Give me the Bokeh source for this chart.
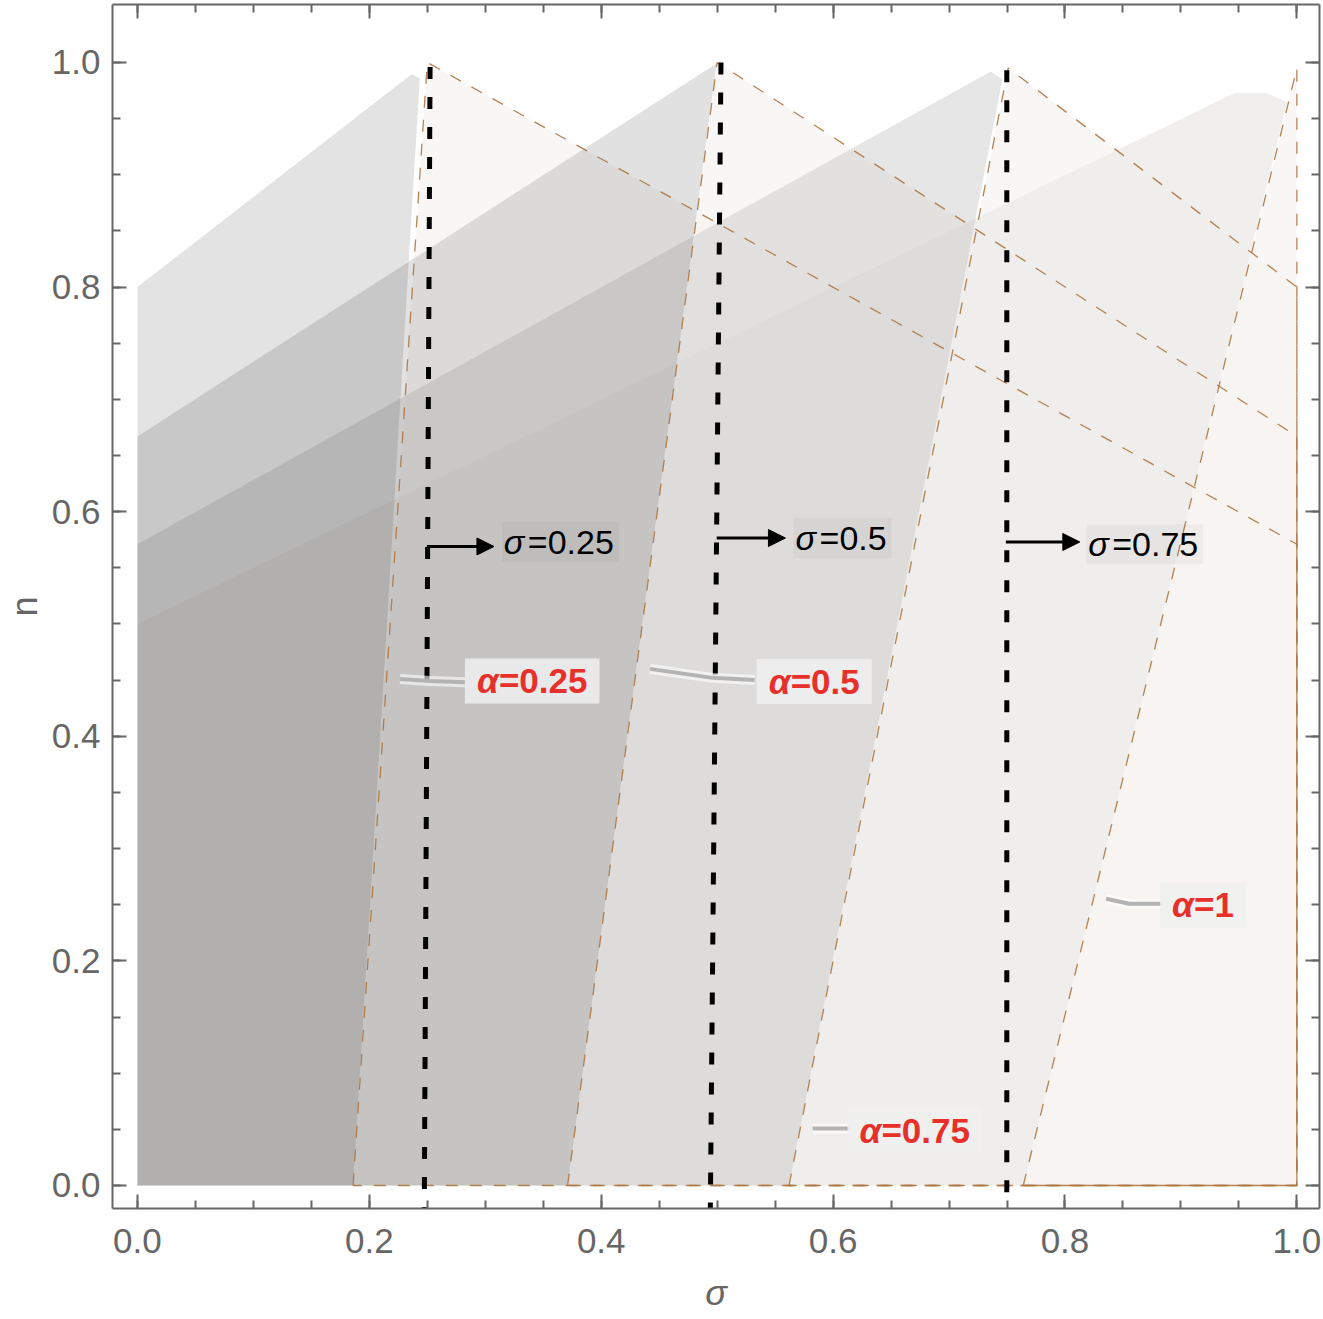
from bokeh.plotting import figure
from bokeh.models import (Range1d, LinearAxis, FixedTicker, Label, Arrow, NormalHead,
                          PrintfTickFormatter, CustomLabelingPolicy)
from bokeh.embed import file_html
from bokeh.resources import INLINE

# --- data (sigma on x, n on y) ---
alphas = [0.25, 0.5, 0.75, 1.0]

# dashed boundary of each alpha: slant line from (slant_bot, 0) up to the top point
slant_bot = [0.186, 0.371, 0.562, 0.764]
slant_top_x = [0.250, 0.500, 0.751, 1.000]
slant_top_y = [1.000, 1.000, 0.995, 0.995]
# descending dashed line ends on sigma = 1 at this n
desc_end_y = [0.571, 0.667, 0.800, 0.995]

# gray region of each alpha: starts on sigma = 0 at rise_start, corner points near the top
rise_start = [0.800, 0.667, 0.571, 0.500]
peak_x = [[0.2435, 0.2365], [0.4995], [0.746, 0.736], [0.9917, 0.973, 0.947]]
peak_y = [[0.986, 0.9895], [0.999], [0.985, 0.992], [0.965, 0.973, 0.973]]

# vertical dotted lines sigma = 0.25, 0.5, 0.75
dot_top_x = [0.2524, 0.5033, 0.7498]
dot_top_y = [0.996, 1.000, 0.993]
dot_bot_x = [0.2474, 0.4941, 0.7498]
dot_bot_y = [-0.021, -0.021, -0.021]

# arrows and sigma labels
arrow_x0 = [0.2497, 0.4996, 0.7490]
arrow_x1 = [0.3075, 0.5589, 0.8128]
arrow_y = [0.569, 0.5765, 0.573]
sig_lab_x = [0.316, 0.5676, 0.820]
sig_lab_y = [0.573, 0.5765, 0.571]
sig_lab_text = ["=0.25", "=0.5", "=0.75"]

# alpha labels with their leader lines
a_lab_x = [0.2928, 0.5444, 0.6227, 0.8923]
a_lab_y = [0.4493, 0.4487, 0.0494, 0.250]
a_lab_text = ["=0.25", "=0.5", "=0.75", "=1"]
lead_x = [[0.2265, 0.2524, 0.2825], [0.4419, 0.4961, 0.5323], [0.5823, 0.6141], [0.8355, 0.8553, 0.8837]]
lead_y = [[0.451, 0.4493, 0.448], [0.460, 0.452, 0.450], [0.0507, 0.0507], [0.2553, 0.2509, 0.2509]]

major_ticks = [0.0, 0.2, 0.4, 0.6, 0.8, 1.0]
minor_ticks = [i * 0.05 for i in range(21)]

FONT = "Liberation Sans"
GREY = "#666666"
RED = "#e8302b"
BROWN = "#ad7540"

# polygons built from the values above
right_xs = [[b, tx, 1.0, 1.0] for b, tx in zip(slant_bot, slant_top_x)]
right_ys = [[0.0, ty, de, 0.0] for ty, de in zip(slant_top_y, desc_end_y)]
left_xs = [[0.0, b] + px + [0.0] for b, px in zip(slant_bot, peak_x)]
left_ys = [[0.0, 0.0] + py + [rs] for py, rs in zip(peak_y, rise_start)]

p = figure(width=1323, height=1319, output_backend="svg", toolbar_location=None,
           x_range=Range1d(-0.0215, 1.0195), y_range=Range1d(-0.0205, 1.0516),
           min_border_left=112, min_border_right=0, min_border_top=0, min_border_bottom=111)
p.outline_line_color = None
p.grid.visible = False
p.background_fill_color = "white"

# light (right) regions underneath
p.patches(right_xs, right_ys, fill_color="#f6f3f1", fill_alpha=0.7, line_color=None)

# gray (left) regions, alpha = 1 at the bottom of the stack
left_fill = ["#16161a", "#57575a", "#c7c6c7", "#eeedeb"]
left_alpha = [0.12, 0.18, 0.44, 0.88]
for i in reversed(range(len(alphas))):
    p.patch(left_xs[i], left_ys[i], fill_color=left_fill[i], fill_alpha=left_alpha[i], line_color=None)

# dashed boundaries
p.patches(right_xs, right_ys, fill_color=None, line_color=BROWN, line_width=1.3,
          line_dash="12 12", line_alpha=0.9)

# dotted sigma lines
p.segment(dot_top_x, dot_top_y, dot_bot_x, dot_bot_y, line_color="black", line_width=5, line_dash="12 18")

for x0, x1, y in zip(arrow_x0, arrow_x1, arrow_y):
    p.add_layout(Arrow(end=NormalHead(size=17, fill_color="black", line_color="black"),
                       x_start=x0, y_start=y, x_end=x1, y_end=y, line_width=3, line_color="black"))

for x, y, t in zip(sig_lab_x, sig_lab_y, sig_lab_text):
    p.add_layout(Label(x=x, y=y, text=t, x_offset=-2, text_font=FONT, text_font_size="34px",
                       text_color="black", text_baseline="middle", text_align="left",
                       background_fill_color="black", background_fill_alpha=0.035,
                       padding=(26, 5, 1, 1)))
    p.add_layout(Label(x=x, y=y, text="σ", text_font=FONT, text_font_size="34px",
                       text_font_style="italic", text_color="black",
                       text_baseline="middle", text_align="left"))

# leader lines of alpha labels
p.multi_line(lead_x, lead_y, line_color="white", line_width=10, line_alpha=0.6)
p.multi_line(lead_x, lead_y, line_color="#b3b3b3", line_width=4)

for x, y, t in zip(a_lab_x, a_lab_y, a_lab_text):
    p.add_layout(Label(x=x, y=y, text=t, x_offset=-12, text_font=FONT, text_font_size="35px",
                       text_font_style="bold", text_color=RED,
                       text_baseline="middle", text_align="left",
                       background_fill_color="#f0f0f0", background_fill_alpha=0.85,
                       padding=(34, 12, 3, 3)))
    p.add_layout(Label(x=x, y=y, text="α", text_font=FONT, text_font_size="35px",
                       text_font_style="bold italic", text_color=RED,
                       text_baseline="middle", text_align="left"))

# frame axes with inward ticks
top_axis = LinearAxis()
right_axis = LinearAxis()
p.add_layout(top_axis, "above")
p.add_layout(right_axis, "right")
for ax in p.axis:
    ax.ticker = FixedTicker(ticks=major_ticks, minor_ticks=minor_ticks)
    ax.formatter = PrintfTickFormatter(format="%.1f")
    ax.axis_line_color = GREY
    ax.axis_line_width = 2
    ax.major_tick_line_color = GREY
    ax.minor_tick_line_color = GREY
    ax.major_tick_line_width = 2
    ax.minor_tick_line_width = 2
    ax.major_tick_in = 14
    ax.major_tick_out = 0
    ax.minor_tick_in = 8
    ax.minor_tick_out = 0
    ax.major_label_text_font = FONT
    ax.major_label_text_font_size = "35px"
    ax.major_label_text_color = GREY
    ax.axis_label_text_font = FONT
    ax.axis_label_text_font_size = "36px"
    ax.axis_label_text_color = GREY
    ax.axis_label_standoff = 0

hide_all = CustomLabelingPolicy(code="for (const i of indices) indices.unset(i)\nreturn indices")
for ax in (top_axis, right_axis):
    ax.major_label_text_font_size = "1px"
    ax.major_label_standoff = 0
    ax.major_label_policy = hide_all

bottom_axis = p.below[0]
bottom_axis.axis_label = "σ"
bottom_axis.axis_label_text_font_style = "italic"
bottom_axis.major_label_standoff = 20
bottom_axis.axis_label_standoff = 16

left_axis = p.left[0]
left_axis.axis_label = "n"
left_axis.axis_label_text_font_style = "normal"
left_axis.major_label_standoff = 12
left_axis.axis_label_standoff = 4

open("out.html", "w").write(file_html(p, INLINE))
